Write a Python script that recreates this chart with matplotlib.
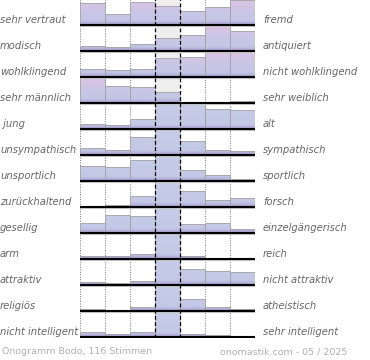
import numpy as np
import matplotlib.pyplot as plt
from matplotlib import transforms
from matplotlib.colors import LinearSegmentedColormap

left_labels = ["sehr vertraut", "modisch", "wohlklingend", "sehr männlich", " jung",
               "unsympathisch", "unsportlich", "zurückhaltend", "gesellig", "arm",
               "attraktiv", "religiös", "nicht intelligent"]
right_labels = ["fremd", "antiquiert", "nicht wohlklingend", "sehr weiblich", "alt",
                "sympathisch", "sportlich", "forsch", "einzelgängerisch", "reich",
                "nicht attraktiv", "atheistisch", "sehr intelligent"]
# bar height per step of the scale, relative to the largest bar of the row (=100)
heights = [
    [89, 44, 93, 78, 58, 73, 100],
    [22, 18, 28, 52, 66, 100, 79],
    [31, 27, 32, 77, 81, 100, 99],
    [100, 68, 64, 45, 0, 0, 8],
    [20, 16, 40, 100, 99, 82, 76],
    [28, 19, 72, 100, 57, 19, 17],
    [60, 55, 84, 100, 43, 23, 7],
    [4, 9, 45, 100, 64, 27, 34],
    [38, 74, 70, 100, 34, 40, 17],
    [12, 12, 21, 100, 13, 5, 5],
    [11, 7, 15, 100, 62, 55, 50],
    [7, 2, 17, 100, 47, 15, 9],
    [20, 12, 20, 100, 12, 8, 3],
]
footer_left = "Onogramm Bodo, 116 Stimmen"
footer_right = "onomastik.com - 05 / 2025"

W, H = 370, 360
fig = plt.figure(figsize=(W / 100, H / 100), dpi=100)
ax = fig.add_axes([80 / W, (H - 338) / H, 175 / W, 339 / H])
ax.set_axis_off()

n = len(heights)
full = 0.95  # full bar height in row units
cols = np.arange(7)

pink = LinearSegmentedColormap.from_list("pink", [
    (0.0, "#a192c4"), (0.08, "#b6b2da"), (0.18, "#c3c7e6"),
    (0.55, "#cac6e6"), (1.0, "#dcc3e3")])
blue = LinearSegmentedColormap.from_list("blue", [
    (0.0, "#a192c4"), (0.08, "#b6b2da"), (0.18, "#c3c8e6"), (1.0, "#c7cce8")])
grad = np.linspace(0, 1, 64).reshape(-1, 1)

# grey background of the centre column
ax.axvspan(3, 4, color="#eeeeee", zorder=0, lw=0)

for r, row in enumerate(heights):
    base = n - 1 - r
    cmap = pink if r < 4 else blue
    h = np.array(row) / 100 * full
    bars = ax.bar(cols, h, bottom=base, width=1, align="edge", color="none",
                  edgecolor="#a4a4a4", lw=0.6, zorder=3)
    for c, b in zip(cols, bars):
        if row[c] == 0:
            continue
        im = ax.imshow(grad, cmap=cmap, origin="lower", aspect="auto",
                       extent=(c, c + 1, base, base + full), zorder=2,
                       interpolation="bilinear")
        im.set_clip_path(b)
    ax.hlines(base - 0.05, 0, 7, color="#c8c8c8", lw=0.8, zorder=3.9)
    ax.hlines(base, 0, 7.05, color="black", lw=1.5, zorder=4)

for x in [0, 1, 2, 5, 6, 7]:
    ax.axvline(x, color="#777777", ls=(0, (1, 1.5)), lw=0.7, zorder=1)
for x in [3, 4]:
    ax.axvline(x, color="black", ls=(0, (3, 2)), lw=0.9, zorder=5)

ax.set_xlim(0, 7)
ax.set_ylim(-0.05, n)

tr = transforms.blended_transform_factory(fig.transFigure, ax.transData)
for r in range(n):
    y = n - 1 - r + 0.18
    ax.text(0.0, y, left_labels[r], transform=tr, ha="left", va="center",
            fontsize=7.2, style="italic", color="#666666")
    ax.text(263 / W, y, right_labels[r], transform=tr, ha="left", va="center",
            fontsize=7.2, style="italic", color="#666666")

fig.text(2 / W, 1 - 352 / H, footer_left, ha="left", va="center",
         fontsize=6.8, color="#b0b0b0")
fig.text(347 / W, 1 - 352 / H, footer_right, ha="right", va="center",
         fontsize=6.8, color="#b0b0b0")

fig.savefig("out.png", dpi=100)
